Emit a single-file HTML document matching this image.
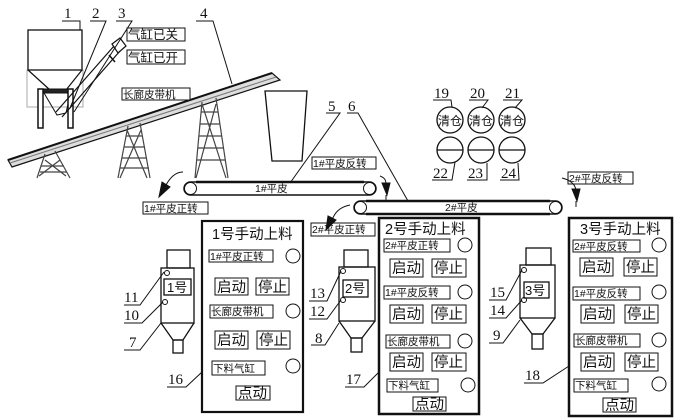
<!DOCTYPE html>
<html><head><meta charset="utf-8"><style>
html,body{margin:0;padding:0;background:#fff;}
svg{display:block;}
text{font-family:"Liberation Sans","Noto Sans CJK SC",sans-serif;fill:#111;}
.n{font-family:"Liberation Serif","Noto Serif CJK SC",serif;font-size:15px;}
.lb{font-size:10.5px;}
.bt{font-size:14.5px;}
.tt{font-size:14.5px;}
</style></head><body>
<svg width="680" height="420" viewBox="0 0 680 420" xmlns="http://www.w3.org/2000/svg" fill="none" stroke="#111" stroke-width="1">
<!-- hopper -->
<rect x="27" y="70" width="56" height="37" stroke="#aaa"/>
<rect x="28" y="30" width="54" height="40" stroke-width="1.3"/>
<path d="M28 70 L50 90 M82 70 L66 90" stroke-width="1.2"/>
<path d="M44 93 L57 115 L66 113 L70 95" stroke-width="1"/>
<rect x="38" y="89" width="35" height="4" fill="#222"/>
<rect x="38" y="89" width="5" height="39" fill="#fff" stroke-width="1.5"/>
<rect x="68" y="89" width="5" height="39" fill="#fff" stroke-width="1.5"/>
<!-- screw conveyor -->
<path d="M56 112 L114 46 M62 117 L120 51" stroke-width="1.2"/>
<path d="M112 44 L120 38 L126 46 L118 53 Z" stroke-width="1.2"/>
<path d="M109 55 L115 62" stroke-width="1.5"/>
<!-- labels 1 2 3 -->
<text class="n" x="64" y="18" stroke="none">1</text><path d="M62 21 L80 21 L80 30"/>
<text class="n" x="92" y="18" stroke="none">2</text><path d="M90 21 L106 21 L70 108"/>
<text class="n" x="118" y="18" stroke="none">3</text><path d="M116 21 L132 21 L74 112"/>
<rect x="127" y="28" width="58" height="13"/><text x="128" y="39" stroke="none" font-size="12.5">气缸已关</text>
<rect x="127" y="50" width="58" height="14"/><text x="128" y="62" stroke="none" font-size="12.5">气缸已开</text>
<!-- long conveyor -->
<path d="M8 160 L272 73 L280 80 L12 167 Z" fill="#ddd" stroke-width="1.2"/>
<path d="M10 163 L276 77" stroke="#777"/>
<path d="M8 160 L272 73" stroke-width="2"/>
<rect x="122" y="88" width="68" height="12" fill="#fff"/><text class="lb" x="123" y="98" stroke="none" font-size="11.5">长廊皮带机</text>
<text class="n" x="200" y="18" stroke="none">4</text><path d="M196 21 L213 21 L232 84"/>
<!-- towers -->
<g stroke="#444" stroke-width="1.2">
<path d="M45 154 L37 178 M55 151 L70 178 M41 166 L64 166 M40 172 L67 172 M45 160 L66 176 M60 160 L39 176"/>
<path d="M128 126 L118 178 M140 123 L150 178 M126 136 L142 136 M124 147 L145 147 M122 158 L147 158 M120 168 L149 168 M127 130 L147 178 M141 130 L120 178"/>
<path d="M202 102 L195 178 M216 98 L228 178 M201 112 L218 112 M200 124 L220 124 M199 136 L222 136 M198 148 L224 148 M197 160 L225 160 M202 104 L226 178 M216 104 L196 178"/>
</g>
<!-- bin -->
<path d="M265 91 L307 91 L302 161 L272 161 Z" stroke-width="1.3"/>
<!-- belt 1 -->
<rect x="184" y="182" width="192" height="13" rx="6.5" stroke-width="1.5"/>
<circle cx="190.5" cy="188.5" r="6" /><circle cx="369.5" cy="188.5" r="6"/>
<path d="M196 182 L364 182" stroke-width="2.5"/>
<text class="lb" x="255" y="192" stroke="none">1#平皮</text>
<text class="n" x="328" y="111" stroke="none">5</text><path d="M326 113 L340 113 L290 183"/>
<text class="n" x="348" y="111" stroke="none">6</text><path d="M347 113 L358 113 L408 201"/>
<rect x="143" y="202" width="65" height="12"/><text class="lb" x="144" y="212" stroke="none" font-size="11.5">1#平皮正转</text>
<rect x="312" y="157" width="64" height="12"/><text class="lb" x="313" y="167" stroke="none" font-size="11.5">1#平皮反转</text>
<!-- arrows -->
<path d="M183 172 C175 172 170 178 166 185"/><path d="M162 182 L170 187 L159 197 Z" fill="#111"/>
<path d="M380 176 C385 178 386 180 386 185"/><path d="M382 183 L390 183 L387 195 Z" fill="#111"/><path d="M386 195 L386 200"/>
<path d="M350 205 C340 207 335 212 332 220"/><path d="M328 216 L336 220 L326 230 Z" fill="#111"/>
<path d="M562 178 C570 180 575 184 576 190"/><path d="M572 189 L580 189 L577 201 Z" fill="#111"/><path d="M576 201 L576 207"/>
<!-- belt 2 -->
<rect x="354" y="201" width="208" height="13" rx="6.5" stroke-width="1.5"/>
<circle cx="360.5" cy="207.5" r="6"/><circle cx="555.5" cy="207.5" r="6"/>
<path d="M366 201 L550 201 M366 214 L550 214" stroke-width="2.5"/>
<text class="lb" x="445" y="211" stroke="none">2#平皮</text>
<rect x="311" y="223" width="64" height="13"/><text class="lb" x="312" y="233" stroke="none" font-size="11.5">2#平皮正转</text>
<rect x="568" y="172" width="65" height="12"/><text class="lb" x="569" y="182" stroke="none" font-size="11.5">2#平皮反转</text>
<!-- circles 19-24 -->
<g stroke-width="1.3">
<circle cx="450" cy="120" r="13"/><circle cx="481" cy="120" r="13"/><circle cx="512" cy="120" r="13"/>
<circle cx="450" cy="150" r="13"/><circle cx="481" cy="150" r="13"/><circle cx="512" cy="150" r="13"/>
<path d="M437 150 L463 150 M468 150 L494 150 M499 150 L525 150"/>
</g>
<text x="438" y="125" stroke="none" font-size="12">清仓</text><text x="469" y="125" stroke="none" font-size="12">清仓</text><text x="500" y="125" stroke="none" font-size="12">清仓</text>
<text class="n" x="434" y="98" stroke="none">19</text><path d="M433 100 L451 100 L452 107"/>
<text class="n" x="470" y="98" stroke="none">20</text><path d="M469 100 L488 100 L482 108"/>
<text class="n" x="505" y="98" stroke="none">21</text><path d="M503 100 L522 100 L515 108"/>
<text class="n" x="433" y="178" stroke="none">22</text><path d="M432 180 L452 180 L455 162"/>
<text class="n" x="468" y="178" stroke="none">23</text><path d="M467 180 L487 180 L487 163"/>
<text class="n" x="501" y="178" stroke="none">24</text><path d="M500 180 L519 180 L518 163"/>
<!-- silos -->
<g stroke-width="1.3">
<rect x="167" y="250" width="23" height="18"/><rect x="161" y="268" width="33" height="55"/>
<path d="M161 323 L173 340 L183 340 L194 323"/><rect x="173" y="340" width="10" height="13"/>
<rect x="164" y="279" width="27" height="16"/>
<rect x="344" y="250" width="24" height="17"/><rect x="339" y="267" width="36" height="54"/>
<path d="M339 321 L351 338 L362 338 L375 321"/><rect x="351" y="338" width="11" height="14"/>
<rect x="343" y="280" width="25" height="17"/>
<rect x="526" y="248" width="25" height="17"/><rect x="520" y="265" width="35" height="53"/>
<path d="M520 318 L532 334 L543 334 L555 318"/><rect x="532" y="334" width="11" height="15"/>
<rect x="524" y="282" width="25" height="16"/>
</g>
<circle cx="167" cy="273" r="2.5"/><circle cx="165" cy="302" r="2.5"/>
<circle cx="343" cy="271" r="2.5"/><circle cx="343" cy="300" r="2.5"/>
<circle cx="524" cy="270" r="2.5"/><circle cx="524" cy="300" r="2.5"/>
<text x="167" y="292" stroke="none" font-size="13">1号</text>
<text x="345" y="293" stroke="none" font-size="13">2号</text>
<text x="525" y="295" stroke="none" font-size="13">3号</text>
<text class="n" x="124" y="302" stroke="none">11</text><path d="M124 305 L140 305 L164 272"/>
<text class="n" x="124" y="320" stroke="none">10</text><path d="M124 323 L142 323 L163 302"/>
<text class="n" x="129" y="347" stroke="none">7</text><path d="M124 350 L140 350 L161 323"/>
<text class="n" x="310" y="298" stroke="none">13</text><path d="M309 301 L327 301 L341 271"/>
<text class="n" x="310" y="316" stroke="none">12</text><path d="M309 319 L327 319 L341 300"/>
<text class="n" x="315" y="343" stroke="none">8</text><path d="M311 345 L325 345 L339 323"/>
<text class="n" x="490" y="297" stroke="none">15</text><path d="M489 300 L506 300 L522 270"/>
<text class="n" x="490" y="315" stroke="none">14</text><path d="M489 318 L506 318 L522 300"/>
<text class="n" x="493" y="340" stroke="none">9</text><path d="M489 343 L503 343 L520 320"/>
<text class="n" x="168" y="384" stroke="none">16</text><path d="M167 387 L186 387 L202 372"/>
<text class="n" x="346" y="384" stroke="none">17</text><path d="M345 387 L364 387 L379 372"/>
<text class="n" x="525" y="380" stroke="none">18</text><path d="M524 383 L543 383 L569 366"/>
<!-- panel 16 -->
<rect x="202" y="221" width="101" height="191" stroke-width="2.2"/>
<text class="tt" x="212" y="239" stroke="none">1号手动上料</text>
<rect x="209" y="250" width="64" height="12"/><text class="lb" x="210" y="260" stroke="none" font-size="11.5">1#平皮正转</text><circle cx="293" cy="256" r="7"/>
<rect x="215" y="278" width="33" height="17"/><text class="bt" x="217" y="292" stroke="none">启动</text>
<rect x="256" y="278" width="33" height="17"/><text class="bt" x="258" y="292" stroke="none">停止</text>
<rect x="210" y="305" width="63" height="13"/><text class="lb" x="211" y="315" stroke="none" font-size="11.5">长廊皮带机</text><circle cx="293" cy="311" r="7"/>
<rect x="215" y="331" width="33" height="18"/><text class="bt" x="217" y="345" stroke="none">启动</text>
<rect x="257" y="331" width="33" height="18"/><text class="bt" x="259" y="345" stroke="none">停止</text>
<rect x="212" y="361" width="53" height="14"/><text class="lb" x="213" y="372" stroke="none" font-size="12">下料气缸</text><circle cx="293" cy="366" r="7"/>
<rect x="236" y="386" width="34" height="14"/><text class="bt" x="238" y="398" stroke="none">点动</text>
<!-- panel 17 -->
<rect x="379" y="218" width="100" height="196" stroke-width="2.5"/>
<text class="tt" x="385" y="234" stroke="none">2号手动上料</text>
<rect x="384" y="239" width="66" height="13"/><text class="lb" x="385" y="249" stroke="none" font-size="11.5">2#平皮正转</text><circle cx="465" cy="245" r="7"/>
<rect x="390" y="259" width="33" height="18"/><text class="bt" x="392" y="273" stroke="none">启动</text>
<rect x="432" y="259" width="34" height="18"/><text class="bt" x="434" y="273" stroke="none">停止</text>
<rect x="384" y="286" width="66" height="13"/><text class="lb" x="385" y="296" stroke="none" font-size="11.5">1#平皮反转</text><circle cx="465" cy="292" r="7"/>
<rect x="390" y="305" width="33" height="18"/><text class="bt" x="392" y="319" stroke="none">启动</text>
<rect x="432" y="305" width="34" height="18"/><text class="bt" x="434" y="319" stroke="none">停止</text>
<rect x="386" y="335" width="64" height="13"/><text class="lb" x="387" y="345" stroke="none" font-size="11.5">长廊皮带机</text><circle cx="465" cy="341" r="7"/>
<rect x="390" y="353" width="33" height="18"/><text class="bt" x="392" y="367" stroke="none">启动</text>
<rect x="432" y="353" width="34" height="18"/><text class="bt" x="434" y="367" stroke="none">停止</text>
<rect x="387" y="379" width="51" height="13"/><text class="lb" x="388" y="389" stroke="none" font-size="12">下料气缸</text><circle cx="468" cy="385" r="7"/>
<rect x="413" y="397" width="33" height="14"/><text class="bt" x="415" y="409" stroke="none">点动</text>
<!-- panel 18 -->
<rect x="569" y="218" width="103" height="198" stroke-width="2.5"/>
<text class="tt" x="580" y="234" stroke="none">3号手动上料</text>
<rect x="573" y="240" width="67" height="12"/><text class="lb" x="574" y="250" stroke="none" font-size="11.5">2#平皮反转</text><circle cx="659" cy="245" r="7"/>
<rect x="580" y="258" width="33" height="18"/><text class="bt" x="582" y="272" stroke="none">启动</text>
<rect x="624" y="258" width="33" height="18"/><text class="bt" x="626" y="272" stroke="none">停止</text>
<rect x="573" y="287" width="67" height="13"/><text class="lb" x="574" y="297" stroke="none" font-size="11.5">1#平皮反转</text><circle cx="659" cy="292" r="7"/>
<rect x="581" y="305" width="33" height="18"/><text class="bt" x="583" y="319" stroke="none">启动</text>
<rect x="625" y="305" width="33" height="18"/><text class="bt" x="627" y="319" stroke="none">停止</text>
<rect x="574" y="334" width="66" height="13"/><text class="lb" x="575" y="344" stroke="none" font-size="11.5">长廊皮带机</text><circle cx="659" cy="340" r="7"/>
<rect x="581" y="353" width="33" height="18"/><text class="bt" x="583" y="367" stroke="none">启动</text>
<rect x="625" y="353" width="33" height="18"/><text class="bt" x="627" y="367" stroke="none">停止</text>
<rect x="574" y="379" width="54" height="13"/><text class="lb" x="575" y="389" stroke="none" font-size="12">下料气缸</text><circle cx="659" cy="384" r="7"/>
<rect x="603" y="398" width="33" height="14"/><text class="bt" x="605" y="410" stroke="none">点动</text>
</svg>
</body></html>
